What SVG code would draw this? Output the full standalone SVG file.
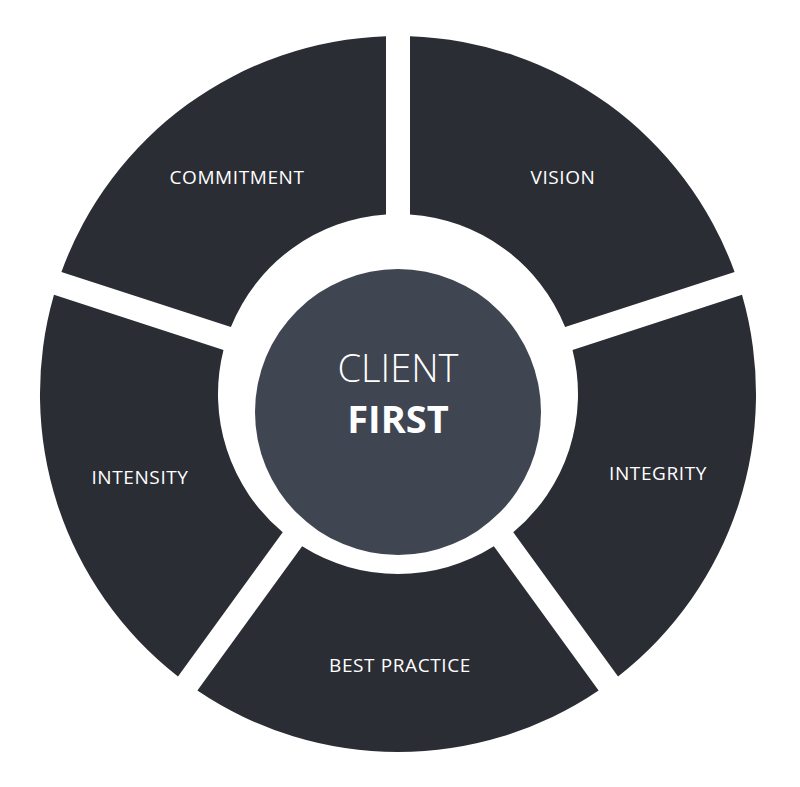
<svg xmlns="http://www.w3.org/2000/svg" width="800" height="787" viewBox="0 0 800 787">
<style>
.seg{fill:#2b2d35}
.lbl{fill:#fff;font-family:"Open Sans",Lato,sans-serif;font-size:19px;text-anchor:middle;letter-spacing:0.6px}
.ctr{fill:#fff;font-family:"Open Sans",Lato,sans-serif;font-size:38px;text-anchor:middle}
</style>
<rect width="800" height="787" fill="#fff"/>
<g id="vision"><path class="seg" d="M410.0,36.2 A358,358 0 0 1 734.6,272.0 L565.1,327.1 A180,180 0 0 0 410.0,214.4 Z"/><text class="lbl" x="563" y="184">VISION</text></g>
<g id="integrity"><path class="seg" transform="rotate(72 398 394)" d="M410.0,36.2 A358,358 0 0 1 734.6,272.0 L565.1,327.1 A180,180 0 0 0 410.0,214.4 Z"/><text class="lbl" x="658" y="480">INTEGRITY</text></g>
<g id="best-practice"><path class="seg" transform="rotate(144 398 394)" d="M410.0,36.2 A358,358 0 0 1 734.6,272.0 L565.1,327.1 A180,180 0 0 0 410.0,214.4 Z"/><text class="lbl" x="400" y="672">BEST PRACTICE</text></g>
<g id="intensity"><path class="seg" transform="rotate(216 398 394)" d="M410.0,36.2 A358,358 0 0 1 734.6,272.0 L565.1,327.1 A180,180 0 0 0 410.0,214.4 Z"/><text class="lbl" x="140" y="484">INTENSITY</text></g>
<g id="commitment"><path class="seg" transform="rotate(288 398 394)" d="M410.0,36.2 A358,358 0 0 1 734.6,272.0 L565.1,327.1 A180,180 0 0 0 410.0,214.4 Z"/><text class="lbl" x="237" y="184">COMMITMENT</text></g>
<g id="client-first"><circle cx="398" cy="412" r="143" fill="#404552"/><text class="ctr" x="398" y="382" font-weight="300">CLIENT</text><text class="ctr" x="398" y="433" font-weight="700">FIRST</text></g>
<g id="connectors"/>
</svg>
